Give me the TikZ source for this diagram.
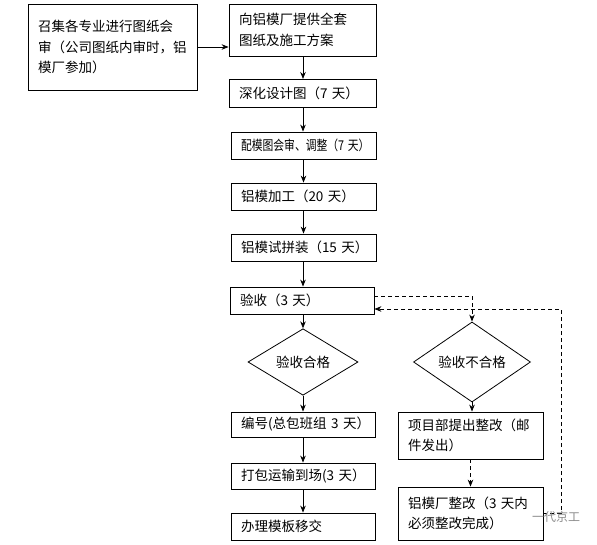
\documentclass[tikz,border=0pt]{standalone}
\usepackage{fontspec}
\usepackage{graphicx}
\setmainfont{Noto Sans CJK SC}
\usetikzlibrary{arrows.meta,shapes.geometric}
\newcommand{\boxfont}{\fontsize{13.5}{20.5}\selectfont}
\begin{document}
\begin{tikzpicture}[x=1pt,y=-1pt,
  fbox/.style={draw, line width=0.8pt, inner xsep=10pt, inner ysep=0pt, align=left, font=\boxfont},
  dia/.style={draw, diamond, line width=0.8pt, inner sep=0pt, font=\boxfont},
  arr/.style={-{Stealth[length=7pt,width=5.5pt]}, line width=0.8pt},
  darr/.style={arr, dash pattern=on 4pt off 3pt}]
\useasboundingbox (0,0) rectangle (597,545);
\node[fbox, text width=149pt, minimum height=86pt] (b1) at (112.5,47) {召集各专业进行图纸会\\审（公司图纸内审时，铝\\模厂参加）};
\node[fbox, text width=127pt, minimum height=52pt] (b2) at (302.5,30) {向铝模厂提供全套\\图纸及施工方案};
\node[fbox, text width=127pt, minimum height=28pt] (b3) at (302.5,93) {深化设计图（7~天）};
\node[fbox, text width=125pt, minimum height=27pt] (b4) at (303.5,145.5) {\scalebox{0.8}[1]{配模图会审、调整（7~天）}};
\node[fbox, text width=125pt, minimum height=27pt] (b5) at (303.5,196.5) {铝模加工（20~天）};
\node[fbox, text width=125pt, minimum height=27pt] (b6) at (303.5,247.5) {铝模试拼装（15~天）};
\node[fbox, text width=124pt, minimum height=27pt] (b7) at (302,300.5) {验收（3~天）};
\node[dia, minimum width=110pt, minimum height=48pt] (d1) at (303,362) {验收合格};
\node[dia, minimum width=117pt, minimum height=48pt] (d2) at (472,362) {验收不合格};
\node[fbox, text width=124pt, minimum height=25pt] (b8) at (303,424.5) {编号(总包班组~3~天）};
\node[fbox, text width=124pt, minimum height=26pt] (b9) at (303,476) {打包运输到场(3~天）};
\node[fbox, text width=124pt, minimum height=27pt] (b10) at (303,526.5) {办理模板移交};
\node[fbox, text width=125pt, minimum height=47pt] (b11) at (470.5,435.5) {项目部提出整改（邮\\件发出）};
\node[fbox, text width=125pt, minimum height=53pt] (b12) at (470.5,513.5) {铝模厂整改（3~天内\\必须整改完成）};
\coordinate (ret) at (561,513.5);
\draw[arr] (b1.east) -- (b1.east -| b2.west);
\draw[arr] (b2.south -| 303,0) -- (303,79);
\draw[arr] (b3.south -| 303,0) -- (b4.north -| 303,0);
\draw[arr] (b4.south) -- (b5.north);
\draw[arr] (b5.south) -- (b6.north);
\draw[arr] (b6.south -| 303,0) -- (b7.north -| 303,0);
\draw[arr] (b7.south -| d1.north) -- (d1.north);
\draw[arr] (d1.south) -- (b8.north);
\draw[arr] (b8.south) -- (b9.north);
\draw[arr] (b9.south) -- (b10.north);
\draw[darr] ([yshift=4.5pt]b7.east) -| (d2.north);
\draw[darr] (d2.south) -- (d2.south |- b11.north);
\draw[darr] (b11.south) -- (b12.north);
\draw[darr] (b12.east) -- (ret) |- ([yshift=-8.5pt]b7.east);
\node[text=black!45, font=\fontsize{12}{12}\selectfont, inner sep=0pt] (wm) at (556,517) {一代京工};
\end{tikzpicture}
\end{document}
